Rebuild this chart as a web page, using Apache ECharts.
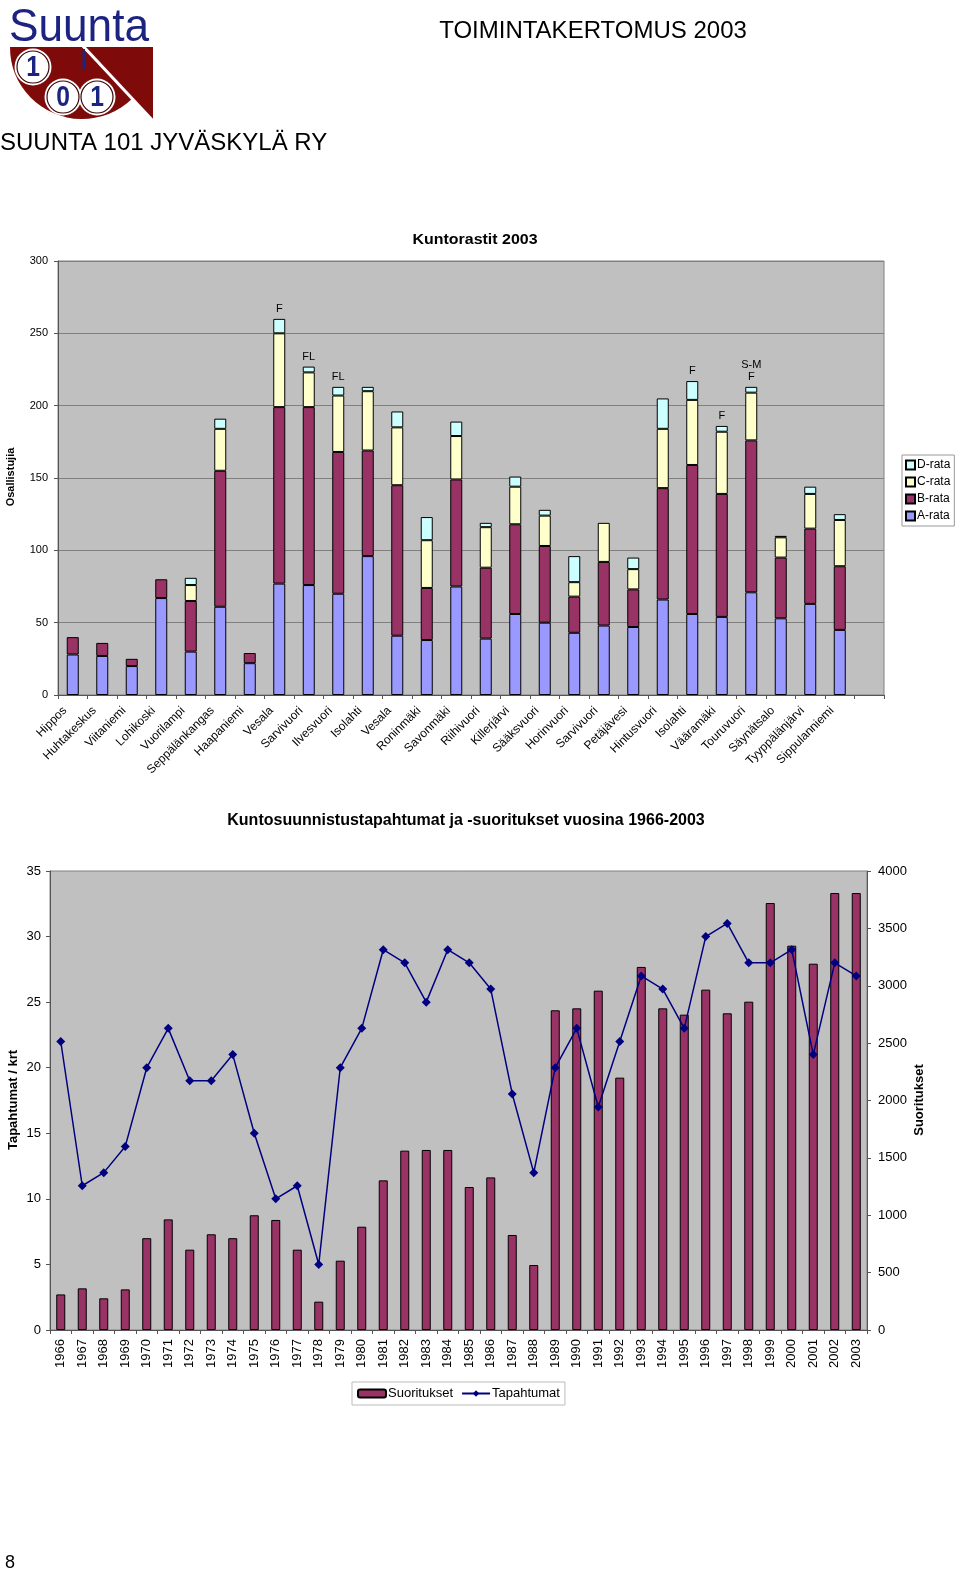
<!DOCTYPE html>
<html><head><meta charset="utf-8">
<script src="https://cdn.jsdelivr.net/npm/echarts@6/dist/echarts.min.js"></script>
<style>html,body{margin:0;padding:0;background:#fff;}#c{width:960px;height:1575px;}</style>
</head><body><div id="c"></div>
<script>
// ---- Chart 1: Kuntorastit 2003 ----
const places = ['Hippos','Huhtakeskus','Viitaniemi','Lohikoski','Vuorilampi','Seppälänkangas','Haapaniemi','Vesala','Sarvivuori','Ilvesvuori','Isolahti','Vesala','Roninmäki','Savonmäki','Riihivuori','Killerjärvi','Sääksvuori','Horinvuori','Sarvivuori','Petäjävesi','Hintusvuori','Isolahti','Vääramäki','Touruvuori','Säynätsalo','Tyyppälänjärvi','Sippulanniemi',''];
const aRata = [28,27,20,67,30,61,22,77,76,70,96,41,38,75,39,56,50,43,48,47,66,56,54,71,53,63,45,null];
const bRata = [12,9,5,13,35,94,7,122,123,98,73,104,36,74,49,62,53,25,44,26,77,103,85,105,42,52,44,null];
const cRata = [null,null,null,null,11,29,null,51,24,39,41,40,33,30,28,26,21,10,27,14,41,45,43,33,14,24,32,null];
const dRata = [null,null,null,null,5,7,null,10,4,6,3,11,16,10,3,7,4,18,null,8,21,13,4,4,1,5,4,null];
const notes = ['','','','','','','','F','FL','FL','','','','','','','','','','','','F','F','S-M\nF','','','',''];

// ---- Chart 2: Kuntosuunnistustapahtumat ja -suoritukset 1966-2003 ----
const years = ['1966','1967','1968','1969','1970','1971','1972','1973','1974','1975','1976','1977','1978','1979','1980','1981','1982','1983','1984','1985','1986','1987','1988','1989','1990','1991','1992','1993','1994','1995','1996','1997','1998','1999','2000','2001','2002','2003'];
const suoritukset = [310,363,276,354,800,964,700,834,800,1000,959,700,247,604,900,1304,1563,1569,1569,1246,1330,828,566,2786,2803,2957,2199,3164,2803,2748,2966,2760,2861,3721,3349,3192,3808,3808];
const tapahtumat = [22,11,12,14,20,23,19,19,21,15,10,11,5,20,23,29,28,25,29,28,26,18,12,20,23,17,22,27,26,23,30,31,28,28,29,21,28,27];

const FF = '"Liberation Sans", Arial, sans-serif';
const chart = echarts.init(document.getElementById('c'), null, {renderer:'canvas'});
const axisGray = '#808080';
const navy = '#1c2380';
const logoRed = '#7f0a0a';

chart.setOption({
  animation:false,
  backgroundColor:'#fff',
  textStyle:{fontFamily:FF,color:'#000'},
  graphic:[
    // logo
    {type:'sector',shape:{cx:82,cy:47,r0:0,r:72,startAngle:0.80,endAngle:Math.PI,clockwise:true},style:{fill:logoRed}},
    {type:'polygon',shape:{points:[[84,47],[153,47],[153,121]]},style:{fill:logoRed}},
    {type:'line',shape:{x1:83,y1:46,x2:154,y2:122},style:{stroke:'#fff',lineWidth:3}},
    {type:'circle',shape:{cx:33,cy:67,r:18.5},style:{fill:'#fff'}},
    {type:'circle',shape:{cx:63,cy:97,r:18.5},style:{fill:'#fff'}},
    {type:'circle',shape:{cx:97,cy:97,r:18.5},style:{fill:'#fff'}},
    {type:'circle',shape:{cx:33,cy:67,r:16},style:{fill:'#fff',stroke:'#3a0505',lineWidth:1.2}},
    {type:'circle',shape:{cx:63,cy:97,r:16},style:{fill:'#fff',stroke:'#3a0505',lineWidth:1.2}},
    {type:'circle',shape:{cx:97,cy:97,r:16},style:{fill:'#fff',stroke:'#3a0505',lineWidth:1.2}},
    {type:'rect',shape:{x:82.5,y:49,width:2.5,height:20},style:{fill:navy}},
    {type:'text',x:33,y:68,scaleX:0.85,style:{text:'1',font:'bold 29px '+FF,fill:navy,align:'center',verticalAlign:'middle'}},
    {type:'text',x:63,y:98,scaleX:0.85,style:{text:'0',font:'bold 29px '+FF,fill:navy,align:'center',verticalAlign:'middle'}},
    {type:'text',x:97,y:98,scaleX:0.85,style:{text:'1',font:'bold 29px '+FF,fill:navy,align:'center',verticalAlign:'middle'}},
    {type:'text',x:9,y:28,scaleX:0.94,style:{text:'Suunta',font:'47px '+FF,fill:navy,align:'left',verticalAlign:'middle'}},
    // header texts
    {type:'text',x:593,y:31,style:{text:'TOIMINTAKERTOMUS 2003',font:'24px '+FF,fill:'#000',align:'center',verticalAlign:'middle'}},
    {type:'text',x:0,y:143,style:{text:'SUUNTA 101 JYVÄSKYLÄ RY',font:'24px '+FF,fill:'#000',align:'left',verticalAlign:'middle'}},
    // chart 1 titles
    {type:'text',x:475,y:240,scaleX:1.14,style:{text:'Kuntorastit 2003',font:'bold 14px '+FF,fill:'#000',align:'center',verticalAlign:'middle'}},
    {type:'text',x:11,y:477,rotation:Math.PI/2,style:{text:'Osallistujia',font:'bold 11px '+FF,fill:'#000',align:'center',verticalAlign:'middle'}},
    // chart 2 titles
    {type:'text',x:466,y:821,style:{text:'Kuntosuunnistustapahtumat ja -suoritukset vuosina 1966-2003',font:'bold 16px '+FF,fill:'#000',align:'center',verticalAlign:'middle'}},
    {type:'text',x:13,y:1100,rotation:Math.PI/2,style:{text:'Tapahtumat / krt',font:'bold 13px '+FF,fill:'#000',align:'center',verticalAlign:'middle'}},
    {type:'text',x:919,y:1100,rotation:Math.PI/2,style:{text:'Suoritukset',font:'bold 13px '+FF,fill:'#000',align:'center',verticalAlign:'middle'}},
    // page number
    {type:'text',x:5,y:1563,style:{text:'8',font:'18px '+FF,fill:'#000',align:'left',verticalAlign:'middle'}}
  ],
  grid:[
    {left:58,top:261,width:826,height:434,show:true,backgroundColor:'#c0c0c0',borderColor:axisGray,borderWidth:1,containLabel:false},
    {left:50,top:871,width:817,height:459,show:true,backgroundColor:'#c0c0c0',borderColor:axisGray,borderWidth:1,containLabel:false}
  ],
  legend:[
    {data:['D-rata','C-rata','B-rata','A-rata'],orient:'vertical',left:902,top:455,itemWidth:9,itemHeight:9,itemGap:5,
     icon:'rect',backgroundColor:'#fff',borderColor:'#999',borderWidth:1,padding:[4,4,4,3],
     textStyle:{fontSize:12,fontFamily:FF,color:'#000',padding:[0,0,0,-3]}},
    {data:['Suoritukset','Tapahtumat'],orient:'horizontal',left:352,top:1382,itemWidth:28,itemHeight:8,itemGap:8,
     backgroundColor:'#fff',borderColor:'#bbb',borderWidth:1,padding:[5,5,5,5],
     textStyle:{fontSize:13,fontFamily:FF,color:'#000',padding:[0,0,0,-3]}}
  ],
  xAxis:[
    {type:'category',gridIndex:0,data:places,boundaryGap:true,
     axisLine:{show:true,lineStyle:{color:'#555'}},axisTick:{show:true,length:4,lineStyle:{color:'#555'}},
     axisLabel:{rotate:45,interval:0,fontSize:12,color:'#000',margin:6,fontFamily:FF,padding:[0,11,0,0]}},
    {type:'category',gridIndex:1,data:years,boundaryGap:true,
     axisLine:{show:true,lineStyle:{color:'#555'}},axisTick:{show:true,length:4,lineStyle:{color:'#555'}},
     axisLabel:{rotate:90,interval:0,fontSize:13,color:'#000',margin:9,fontFamily:FF}}
  ],
  yAxis:[
    {type:'value',gridIndex:0,min:0,max:300,interval:50,
     axisLine:{show:true,lineStyle:{color:'#555'}},axisTick:{show:true,length:4,lineStyle:{color:'#555'}},
     splitLine:{show:true,lineStyle:{color:axisGray,width:1}},
     axisLabel:{fontSize:11,color:'#000',margin:10,fontFamily:FF}},
    {type:'value',gridIndex:1,min:0,max:35,interval:5,position:'left',
     axisLine:{show:true,lineStyle:{color:'#555'}},axisTick:{show:true,length:4,lineStyle:{color:'#555'}},
     splitLine:{show:false},axisLabel:{fontSize:13,color:'#000',margin:9,fontFamily:FF}},
    {type:'value',gridIndex:1,min:0,max:4000,interval:500,position:'right',
     axisLine:{show:true,lineStyle:{color:'#555'}},axisTick:{show:true,length:4,lineStyle:{color:'#555'}},
     splitLine:{show:false},axisLabel:{fontSize:13,color:'#000',margin:11,fontFamily:FF,formatter:v=>String(v)}}
  ],
  series:[
    {name:'A-rata',type:'bar',stack:'k',xAxisIndex:0,yAxisIndex:0,barWidth:12,data:aRata,
     itemStyle:{color:'#9999ff',borderColor:'#000',borderWidth:1}},
    {name:'B-rata',type:'bar',stack:'k',xAxisIndex:0,yAxisIndex:0,barWidth:12,data:bRata,
     itemStyle:{color:'#993366',borderColor:'#000',borderWidth:1}},
    {name:'C-rata',type:'bar',stack:'k',xAxisIndex:0,yAxisIndex:0,barWidth:12,data:cRata,
     itemStyle:{color:'#ffffcc',borderColor:'#000',borderWidth:1}},
    {name:'D-rata',type:'bar',stack:'k',xAxisIndex:0,yAxisIndex:0,barWidth:12,data:dRata,
     itemStyle:{color:'#ccffff',borderColor:'#000',borderWidth:1},
     label:{show:true,position:'top',distance:4,fontSize:11,lineHeight:12,color:'#000',fontFamily:FF,
       formatter:p=>notes[p.dataIndex]||''}},
    {name:'Suoritukset',type:'bar',xAxisIndex:1,yAxisIndex:2,barWidth:9,data:suoritukset,
     itemStyle:{color:'#993366',borderColor:'#000',borderWidth:1}},
    {name:'Tapahtumat',type:'line',xAxisIndex:1,yAxisIndex:1,data:tapahtumat,
     symbol:'diamond',symbolSize:9,lineStyle:{color:'#000080',width:1.5},itemStyle:{color:'#000080'},z:5}
  ]
});
</script></body></html>
